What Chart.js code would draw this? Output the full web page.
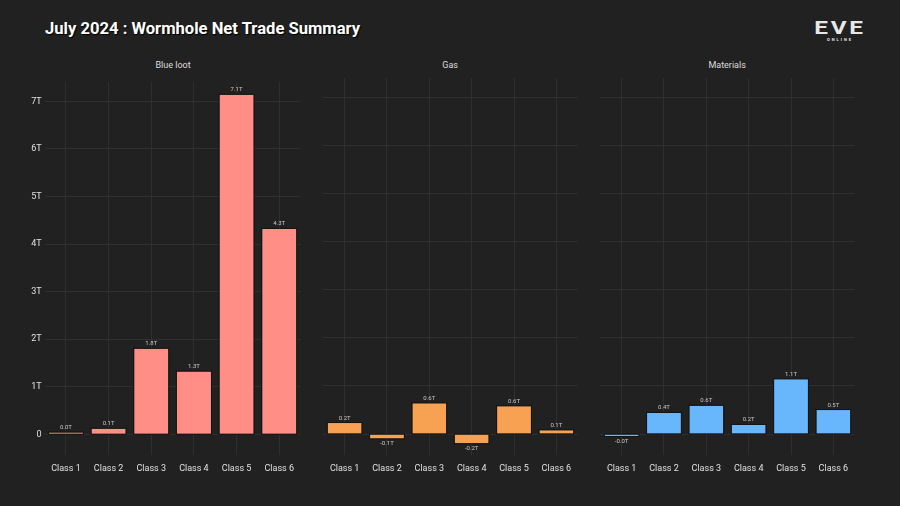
<!DOCTYPE html>
<html lang="en">
<head>
  <meta charset="UTF-8" />
  <title>July 2024 : Wormhole Net Trade Summary</title>
  <script src="https://cdn.jsdelivr.net/npm/chart.js"></script>
  <style>
    body {
      margin: 0;
      width: 900px;
      height: 506px;
      background: #212121;
      font-family: Roboto, sans-serif;
      overflow: hidden;
      position: relative;
    }
    .title {
      position: absolute;
      left: 45px;
      top: 19px;
      color: #fff;
      font-size: 16.6px;
      font-weight: bold;
      text-shadow: 1px 1px 1px #000;
    }
    .facet {
      position: absolute;
      top: 60px;
      width: 257px;
      text-align: center;
      color: #ddd;
      font-size: 9px;
    }
    .logo {
      position: absolute;
      left: 812px;
      top: 19px;
      width: 56px;
      text-align: center;
      color: #e8e8e8;
    }
    .logo .big { font-size: 18px; font-weight: bold; letter-spacing: 2px; line-height: 18px; transform: scaleX(1.35); }
    .logo .small { font-size: 4px; letter-spacing: 2px; font-weight: bold; line-height: 6px; }
    .panel { position: absolute; top: 74px; height: 406px; }
  </style>
</head>
<body>
  <div class="title">July 2024 : Wormhole Net Trade Summary</div>
  <div class="logo"><div class="big">EVE</div><div class="small">ONLINE</div></div>

  <div class="facet" style="left:44.6px">Blue loot</div>
  <div class="facet" style="left:321.6px">Gas</div>
  <div class="facet" style="left:598.6px">Materials</div>

  <div class="panel" style="left:0; width:302px"><canvas id="c1"></canvas></div>
  <div class="panel" style="left:321.6px; width:257px"><canvas id="c2"></canvas></div>
  <div class="panel" style="left:598.6px; width:257px"><canvas id="c3"></canvas></div>

  <script>
    // values in trillions ISK
    const classes = ["Class 1", "Class 2", "Class 3", "Class 4", "Class 5", "Class 6"];
    const blueLoot = [0.04, 0.12, 1.80, 1.32, 7.14, 4.32];
    const gas = [0.23, -0.09, 0.64, -0.19, 0.58, 0.08];
    const materials = [-0.04, 0.44, 0.59, 0.19, 1.14, 0.50];
    const yTicks = [0, 1, 2, 3, 4, 5, 6, 7];
    const yTickLabels = ["0", "1T", "2T", "3T", "4T", "5T", "6T", "7T"];

    const gridColor = "#2f2f2f";

    // dark outline drawn outside the fill, like ggplot does
    const barOutline = {
      id: "barOutline",
      afterDatasetsDraw(chart) {
        const ctx = chart.ctx;
        ctx.save();
        ctx.strokeStyle = "#141414";
        ctx.lineWidth = 1;
        chart.getDatasetMeta(0).data.forEach(bar => {
          const top = Math.min(bar.y, bar.base), bot = Math.max(bar.y, bar.base);
          ctx.strokeRect(bar.x - bar.width / 2 - 0.5, top - 0.5, bar.width + 1, bot - top + 1);
        });
        ctx.restore();
      }
    };

    // small value labels above / below each bar
    const valueLabels = {
      id: "valueLabels",
      afterDatasetsDraw(chart) {
        const ctx = chart.ctx;
        const meta = chart.getDatasetMeta(0);
        const data = chart.data.datasets[0].data;
        ctx.save();
        ctx.font = "6px Roboto";
        ctx.fillStyle = "#c8c8c8";
        ctx.textAlign = "center";
        meta.data.forEach((bar, i) => {
          const v = data[i];
          const txt = v.toFixed(1) + "T";
          if (v >= 0) {
            ctx.textBaseline = "bottom";
            ctx.fillText(txt, bar.x, bar.y - 2);
          } else {
            ctx.textBaseline = "top";
            ctx.fillText(txt, bar.x, bar.y + 2);
          }
        });
        ctx.restore();
      }
    };

    function makePanel(id, values, color, showY) {
      new Chart(document.getElementById(id), {
        type: "bar",
        data: {
          labels: classes,
          datasets: [{
            data: values,
            backgroundColor: color,
            borderWidth: 0,
            categoryPercentage: 0.8,
            barPercentage: 1
          }]
        },
        options: {
          responsive: true,
          maintainAspectRatio: false,
          animation: false,
          layout: { padding: { top: 4, right: 0, left: 0, bottom: 0 } },
          plugins: {
            legend: { display: false },
            tooltip: { enabled: false }
          },
          scales: {
            x: {
              grid: { color: gridColor, offset: false, drawTicks: false },
              border: { display: false },
              ticks: { color: "#e0e0e0", font: { size: 9, family: "Roboto" }, padding: 8, maxRotation: 0 },
              afterFit(axis) { axis.height = 25; }
            },
            y: {
              min: -0.434,
              max: 7.40,
              grid: { color: gridColor, drawTicks: false },
              border: { display: false },
              afterBuildTicks(axis) { axis.ticks = yTicks.map(v => ({ value: v })); },
              ticks: {
                display: showY,
                color: "#e0e0e0",
                font: { size: 9, family: "Roboto" },
                padding: 3,
                callback: (v) => yTickLabels[yTicks.indexOf(v)]
              },
              afterFit(axis) { axis.width = showY ? 44.6 : 0; }
            }
          }
        },
        plugins: [barOutline, valueLabels]
      });
    }

    makePanel("c1", blueLoot, "#ff8e86", true);
    makePanel("c2", gas, "#f7a153", false);
    makePanel("c3", materials, "#68b6fb", false);
  </script>
</body>
</html>
